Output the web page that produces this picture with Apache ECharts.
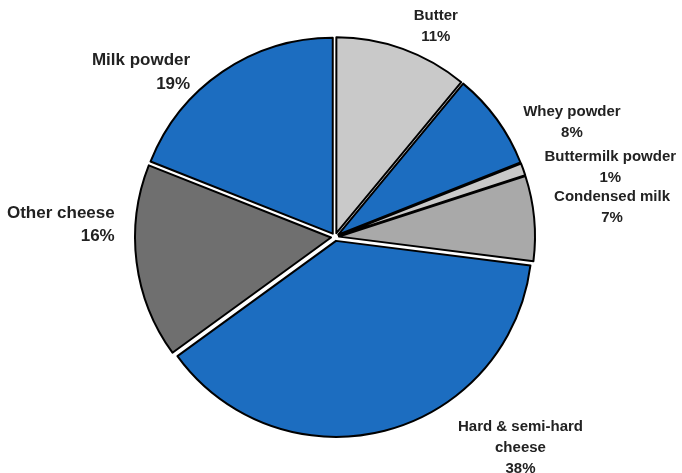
<!DOCTYPE html>
<html>
<head>
<meta charset="utf-8">
<script src="https://cdn.jsdelivr.net/npm/echarts@6/dist/echarts.min.js"></script>
<style>
html,body{margin:0;padding:0;background:#fff;}
#chart{width:682px;height:473px;}
</style>
</head>
<body>
<div id="chart"></div>
<script>
var categories = ["Butter", "Whey powder", "Buttermilk powder", "Condensed milk", "Hard & semi-hard cheese", "Other cheese", "Milk powder"];
var labelTexts = ["Butter", "Whey powder", "Buttermilk powder", "Condensed milk", "Hard & semi-hard\ncheese", "Other cheese", "Milk powder"];
var values = [11, 8, 1, 7, 38, 16, 19];
var colors = ["#c9c9c9", "#1c6dc0", "#c9c9c9", "#a9a9a9", "#1c6dc0", "#6f6f6f", "#1c6dc0"];
// label styling / nudges relative to ECharts' default outside label anchor
var labelFontSize = [15, 15, 15, 15, 15, 17, 17];
var labelLineHeight = [21, 21, 21, 21, 21, 23, 24];
var labelAlign = ["center", "center", "center", "center", "center", "right", "right"];
var labelNudge = [[-7, -8], [28, 12], [38, 3], [28, -9], [97, 3], [28, -39], [11, 13]];

var chart = echarts.init(document.getElementById('chart'), null, {renderer: 'canvas'});
var data = categories.map(function (c, i) {
  return {
    name: c,
    value: values[i],
    selected: true,
    itemStyle: {color: colors[i]},
    label: {fontSize: labelFontSize[i], lineHeight: labelLineHeight[i]}
  };
});
chart.setOption({
  animation: false,
  backgroundColor: '#ffffff',
  series: [{
    type: 'pie',
    center: [335, 237],
    radius: 196,
    startAngle: 90,
    clockwise: true,
    selectedMode: 'multiple',
    selectedOffset: 4,
    avoidLabelOverlap: false,
    itemStyle: {borderColor: '#000', borderWidth: 2},
    label: {
      show: true,
      position: 'outside',
      fontFamily: 'Liberation Sans, Arial, sans-serif',
      fontWeight: 'bold',
      fontSize: 15,
      lineHeight: 21,
      color: '#222',
      formatter: function (p) {
        return labelTexts[p.dataIndex] + '\n' + p.value + '%';
      }
    },
    labelLine: {show: false},
    labelLayout: function (p) {
      var i = p.dataIndex;
      return {align: labelAlign[i], dx: labelNudge[i][0], dy: labelNudge[i][1]};
    },
    emphasis: {disabled: true},
    data: data
  }]
});
</script>
</body>
</html>
